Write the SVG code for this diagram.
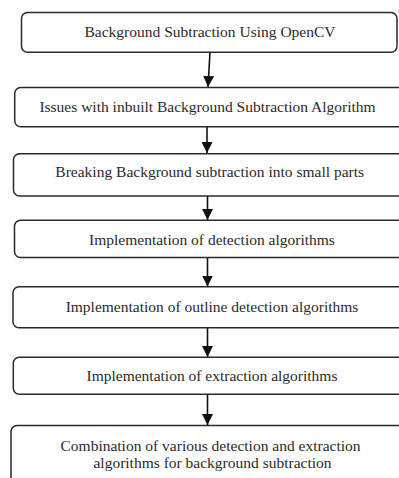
<svg xmlns="http://www.w3.org/2000/svg" width="399" height="478" viewBox="0 0 399 478">
<defs>
<style>
.box{fill:#fff;stroke:#2a2a2a;stroke-width:1.5}
.t{font-family:"Liberation Serif","Times New Roman",serif;font-size:15.5px;fill:#2a2a2a;text-anchor:middle}
.c{stroke:#111;stroke-width:1.6;fill:none}
</style>
<marker id="a" markerWidth="11" markerHeight="11" refX="11" refY="5.5" orient="auto" markerUnits="userSpaceOnUse" viewBox="0 0 11 11">
<path d="M0,0 L11,5.5 L0,11 Z" fill="#111"/>
</marker>
</defs>
<rect width="399" height="478" fill="#fff"/>
<g id="connectors">
<line class="c" x1="210" y1="52" x2="208" y2="87" marker-end="url(#a)"/>
<line class="c" x1="207" y1="127" x2="207" y2="153" marker-end="url(#a)"/>
<line class="c" x1="207.5" y1="196" x2="207.5" y2="220" marker-end="url(#a)"/>
<line class="c" x1="207.5" y1="257.5" x2="207.5" y2="286.5" marker-end="url(#a)"/>
<line class="c" x1="207.5" y1="328" x2="207.5" y2="357" marker-end="url(#a)"/>
<line class="c" x1="207.5" y1="394.5" x2="207.5" y2="425" marker-end="url(#a)"/>
</g>
<g id="n1"><rect class="box" x="21.5" y="12.5" width="375.5" height="39.8" rx="6"/><text class="t" x="210" y="36.7">Background Subtraction Using OpenCV</text></g>
<g id="n2"><rect class="box" x="14.7" y="87.5" width="390" height="39.2" rx="6"/><text class="t" x="207.5" y="111.7">Issues with inbuilt Background Subtraction Algorithm</text></g>
<g id="n3"><rect class="box" x="13.5" y="153.8" width="400" height="42.2" rx="6"/><text class="t" x="209.7" y="176.7">Breaking Background subtraction into small parts</text></g>
<g id="n4"><rect class="box" x="14.5" y="220.3" width="400" height="37.2" rx="6"/><text class="t" x="212" y="245.3">Implementation of detection algorithms</text></g>
<g id="n5"><rect class="box" x="13" y="286.8" width="400" height="41" rx="6"/><text class="t" x="212" y="312">Implementation of outline detection algorithms</text></g>
<g id="n6"><rect class="box" x="13.3" y="357.3" width="400" height="37" rx="6"/><text class="t" x="212" y="380.8">Implementation of extraction algorithms</text></g>
<g id="n7"><rect class="box" x="11" y="425.5" width="400" height="80" rx="6"/><text class="t" x="210.5" y="450.7">Combination of various detection and extraction</text><text class="t" x="212.5" y="467.7">algorithms for background subtraction</text></g>
</svg>
